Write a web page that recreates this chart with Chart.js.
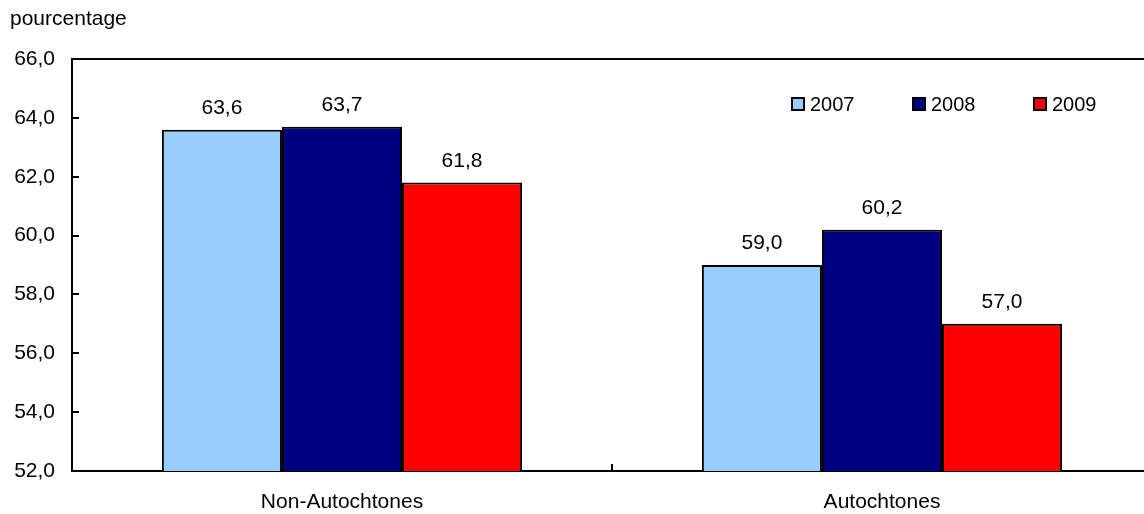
<!DOCTYPE html>
<html>
<head>
<meta charset="utf-8">
<script src="https://cdn.jsdelivr.net/npm/chart.js@4.4.1/dist/chart.umd.min.js"></script>
<style>
  html, body { margin: 0; padding: 0; background: #fff; }
  #wrap { width: 1144px; height: 514px; overflow: hidden; }
</style>
</head>
<body>
<div id="wrap"><canvas id="chart" width="1152" height="514"></canvas></div>
<script>
let categories = ["Non-Autochtones", "Autochtones"];
let seriesLabels = ["2007", "2008", "2009"];
let values2007 = [63.6, 59.0];
let values2008 = [63.7, 60.2];
let values2009 = [61.8, 57.0];
let colorHex = ["#99CCFF", "#000080", "#FF0000"];
let yMin = 52, yMax = 66, yStep = 2;

let fontFamily = "'Liberation Sans', Arial, sans-serif";
let fmt = (v) => v.toFixed(1).replace(".", ",");

let extras = {
  id: "extras",
  afterDraw(chart) {
    let ctx = chart.ctx;
    let area = chart.chartArea;
    let y = chart.scales.y;
    let x = chart.scales.x;
    ctx.save();
    ctx.strokeStyle = "#000";
    ctx.lineWidth = 2;
    // top border
    ctx.beginPath();
    ctx.moveTo(area.left, area.top);
    ctx.lineTo(area.right, area.top);
    ctx.stroke();
    // inward ticks on y axis
    y.ticks.forEach((t) => {
      let py = Math.round(y.getPixelForValue(t.value));
      ctx.beginPath();
      ctx.moveTo(area.left, py);
      ctx.lineTo(area.left + 7, py);
      ctx.stroke();
    });
    // category separator ticks on x axis
    for (let i = 1; i < categories.length; i++) {
      let px = Math.round((x.getPixelForValue(i - 1) + x.getPixelForValue(i)) / 2);
      ctx.beginPath();
      ctx.moveTo(px, area.bottom);
      ctx.lineTo(px, area.bottom - 7);
      ctx.stroke();
    }
    // value labels
    ctx.fillStyle = "#000";
    ctx.font = "21px " + fontFamily;
    ctx.textAlign = "center";
    ctx.textBaseline = "alphabetic";
    chart.data.datasets.forEach((ds, di) => {
      chart.getDatasetMeta(di).data.forEach((bar, i) => {
        ctx.fillText(fmt(ds.data[i]), bar.x, bar.y - 16);
      });
    });
    // legend
    ctx.font = "20px " + fontFamily;
    ctx.textAlign = "left";
    ctx.textBaseline = "middle";
    ctx.lineWidth = 2;
    chart.data.datasets.forEach((ds, di) => {
      let lx = 792 + di * 121;
      let ly = 104;
      ctx.fillStyle = ds.backgroundColor;
      ctx.fillRect(lx, ly - 6, 12, 12);
      ctx.strokeRect(lx, ly - 6, 12, 12);
      ctx.fillStyle = "#000";
      ctx.fillText(ds.label, lx + 18, ly + 1);
    });
    // unit title
    ctx.font = "21px " + fontFamily;
    ctx.textBaseline = "alphabetic";
    ctx.fillText("pourcentage", 10, 25);
    ctx.restore();
  }
};

let barChart = new Chart(document.getElementById("chart").getContext("2d"), {
  type: "bar",
  data: {
    labels: categories,
    datasets: [
      { label: seriesLabels[0], data: values2007, backgroundColor: colorHex[0] },
      { label: seriesLabels[1], data: values2008, backgroundColor: colorHex[1] },
      { label: seriesLabels[2], data: values2009, backgroundColor: colorHex[2] },
    ],
  },
  options: {
    responsive: false,
    animation: false,
    layout: { padding: { top: 59, left: 0, right: 0, bottom: 0 } },
    datasets: {
      bar: {
        borderColor: "#000",
        borderWidth: 2,
        borderSkipped: false,
        barPercentage: 1,
        categoryPercentage: 0.667,
      },
    },
    plugins: {
      legend: { display: false },
      tooltip: { enabled: false },
    },
    scales: {
      x: {
        grid: { display: false },
        border: { display: true, color: "#000", width: 2 },
        ticks: { color: "#000", font: { size: 21, family: fontFamily }, padding: 11 },
        afterFit(scale) { scale.height = 43; },
      },
      y: {
        min: yMin,
        max: yMax,
        grid: { display: false },
        border: { display: true, color: "#000", width: 2 },
        ticks: {
          stepSize: yStep,
          color: "#000",
          font: { size: 21, family: fontFamily },
          padding: 9,
          callback: (v) => fmt(v),
        },
        afterFit(scale) { scale.width = 72; },
      },
    },
  },
  plugins: [extras],
});
</script>
</body>
</html>
